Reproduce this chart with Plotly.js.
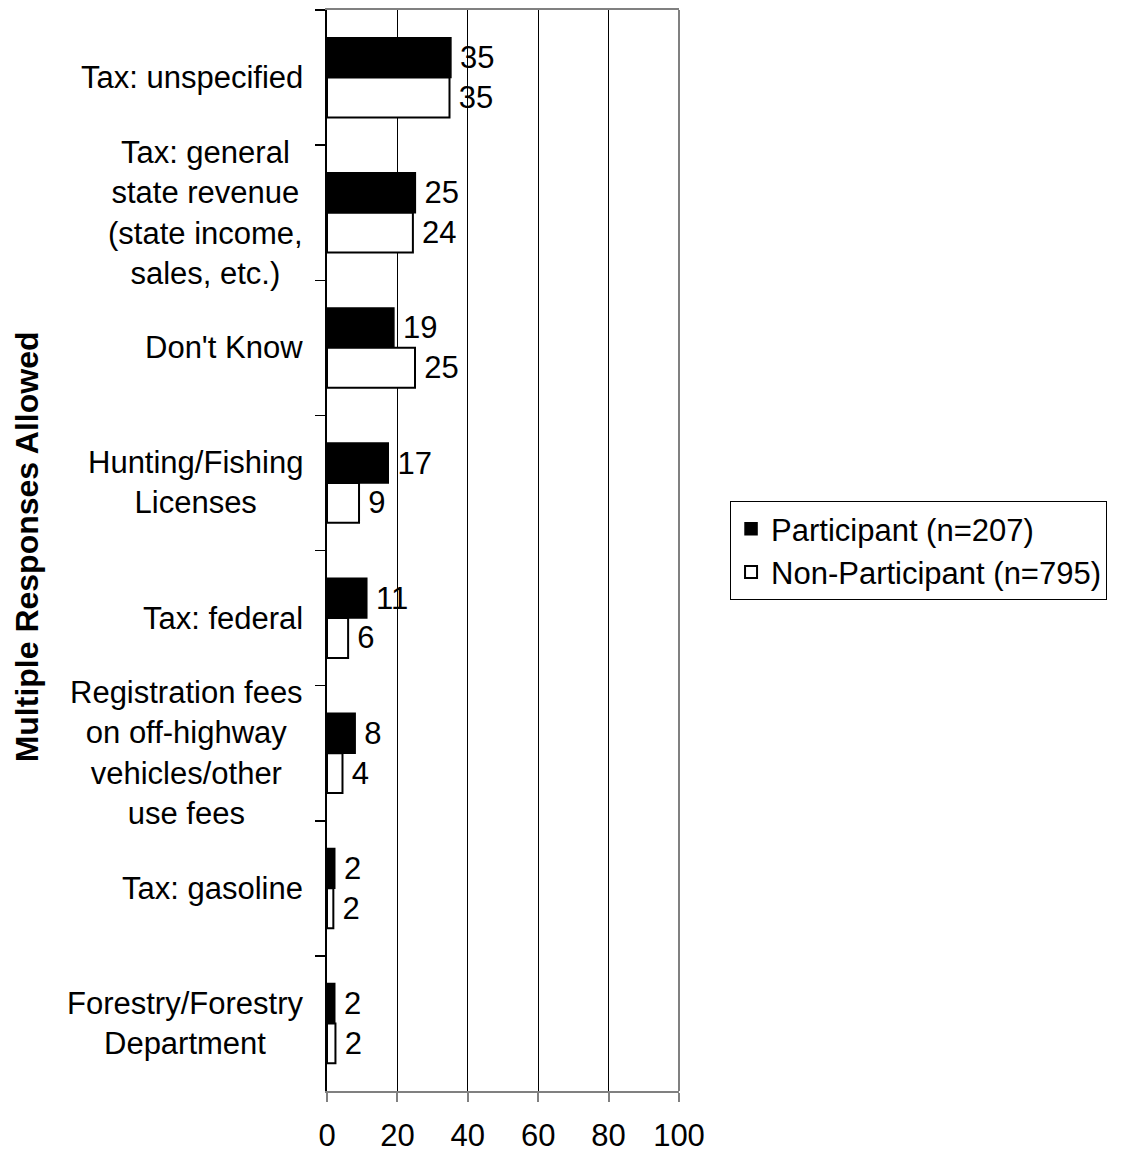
<!DOCTYPE html>
<html>
<head>
<meta charset="utf-8">
<script src="https://cdn.plot.ly/plotly-3.0.1.min.js"></script>
<style>html,body{margin:0;padding:0;background:#fff;}#chart{width:1122px;height:1152px;}</style>
</head>
<body>
<div id="chart"></div>
<script>
var categories = [
  "Tax: unspecified",
  "Tax: general<br>state revenue<br>(state income,<br>sales, etc.)",
  "Don't Know",
  "Hunting/Fishing<br>Licenses",
  "Tax: federal",
  "Registration fees<br>on off-highway<br>vehicles/other<br>use fees",
  "Tax: gasoline",
  "Forestry/Forestry<br>Department"
];
var participantValues = [35.2, 25.1, 19.0, 17.4, 11.3, 8.0, 2.2, 2.2];
var participantLabels = ["35", "25", "19", "17", "11", "8", "2", "2"];
var nonParticipantValues = [34.8, 24.4, 25.0, 9.1, 6.0, 4.4, 1.8, 2.4];
var nonParticipantLabels = ["35", "24", "25", "9", "6", "4", "2", "2"];
var seriesNames = ["Participant (n=207)", "Non-Participant (n=795)"];
var xTickValues = [0, 20, 40, 60, 80, 100];
var yTitle = "Multiple Responses Allowed";

var FONT = "Liberation Sans, Arial, sans-serif";
var FS = 31;

var traces = [
  {
    type: "bar", orientation: "h", name: seriesNames[0],
    y: categories, x: participantValues, text: participantLabels,
    texttemplate: "\u2009%{text}",
    textposition: "outside", cliponaxis: false, constraintext: "none",
    textfont: {family: FONT, size: FS, color: "#000"},
    marker: {color: "#000", line: {color: "#000", width: 1.5}},
    hoverinfo: "x+y"
  },
  {
    type: "bar", orientation: "h", name: seriesNames[1],
    y: categories, x: nonParticipantValues, text: nonParticipantLabels,
    texttemplate: "\u2009%{text}",
    textposition: "outside", cliponaxis: false, constraintext: "none",
    textfont: {family: FONT, size: FS, color: "#000"},
    marker: {color: "#fff", line: {color: "#000", width: 2}},
    hoverinfo: "x+y"
  }
];

var annotations = categories.map(function (c) {
  return {
    xref: "paper", yref: "y", x: -0.062, y: c,
    xanchor: "right", yanchor: "middle", align: "center",
    text: c, showarrow: false,
    font: {family: FONT, size: FS, color: "#000"}
  };
});
annotations.push({
  xref: "paper", yref: "paper", x: -0.852, y: 0.503,
  xanchor: "center", yanchor: "middle", textangle: -90,
  text: yTitle, showarrow: false,
  font: {family: FONT, size: 32, color: "#000", weight: "bold"}
});

var layout = {
  width: 1122, height: 1152,
  margin: {l: 327, r: 443, t: 10, b: 61, pad: 0},
  paper_bgcolor: "#fff", plot_bgcolor: "#fff",
  font: {family: FONT, size: FS, color: "#000"},
  barmode: "group", bargap: 0.41, bargroupgap: 0,
  showlegend: true,
  legend: {
    x: 1.145, xanchor: "left", y: 0.5, yanchor: "middle",
    traceorder: "normal",
    bordercolor: "#000", borderwidth: 1, bgcolor: "#fff",
    font: {family: FONT, size: FS, color: "#000"},
    itemwidth: 30, tracegroupgap: 0
  },
  xaxis: {
    range: [0, 100], tickvals: xTickValues, ticktext: xTickValues.map(String),
    showgrid: true, gridcolor: "#000", gridwidth: 1,
    zeroline: false,
    showline: true, linecolor: "#808080", linewidth: 2, mirror: true,
    ticks: "outside", ticklen: 9, tickcolor: "#808080", tickwidth: 2,
    ticklabelstandoff: 7,
    tickfont: {family: FONT, size: FS, color: "#000"},
    fixedrange: true
  },
  yaxis: {
    type: "category", autorange: "reversed",
    showgrid: false, zeroline: false,
    showline: true, linecolor: "#000", linewidth: 2,
    ticks: "outside", ticklen: 10, tickcolor: "#000", tickwidth: 1.5,
    tickson: "boundaries",
    showticklabels: false,
    automargin: false,
    fixedrange: true
  },
  annotations: annotations,
  shapes: [
    {type: "line", xref: "paper", yref: "paper", x0: 1, x1: 1, y0: 0, y1: 1,
     line: {color: "#808080", width: 2}}
  ]
};

Plotly.newPlot("chart", traces, layout, {staticPlot: true, displayModeBar: false});
</script>
</body>
</html>
